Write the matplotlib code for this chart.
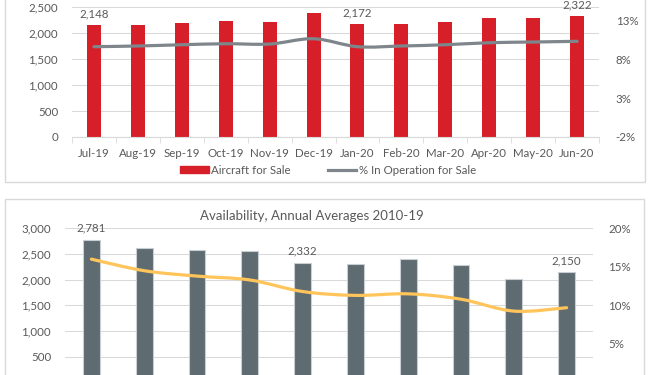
import numpy as np
import matplotlib
matplotlib.use('Agg')
import matplotlib.pyplot as plt
from matplotlib.patches import Rectangle, PathPatch
from matplotlib.path import Path
from matplotlib.lines import Line2D
from matplotlib.ticker import FuncFormatter

plt.rcParams['font.family'] = ['Lato', 'DejaVu Sans']

# monthly data, Jul-19 .. Jun-20
months = ['Jul-19', 'Aug-19', 'Sep-19', 'Oct-19', 'Nov-19', 'Dec-19',
          'Jan-20', 'Feb-20', 'Mar-20', 'Apr-20', 'May-20', 'Jun-20']
for_sale = [2148, 2160, 2198, 2225, 2212, 2390, 2172, 2179, 2217, 2282, 2294, 2322]
pct_for_sale = [9.58, 9.67, 9.83, 9.96, 9.92, 10.6, 9.58, 9.67, 9.83, 10.09, 10.18, 10.27]
monthly_labelled = ['Jul-19', 'Jan-20', 'Jun-20']

# annual averages 2010-19
years = list(range(2010, 2020))
avail = [2781, 2623, 2584, 2553, 2332, 2306, 2397, 2293, 2008, 2150]
avail_pct = [16.0, 14.5, 13.8, 13.3, 11.8, 11.3, 11.5, 10.8, 9.26, 9.7]
yearly_labelled = [2010, 2014, 2019]

red = '#D71F29'
gray_line = '#7F868B'
slate = '#5E6B71'
yellow = '#FFC45A'
grid_c = '#D9D9D9'
txt_c = '#595959'
fs = 8.3

W, H = 651, 375
def box(l, t, r, b):
    # pixel box -> figure fraction
    return [l / W, 1 - b / H, (r - l) / W, (b - t) / H]

def smooth_line(ax, xs, ys, **kw):
    # excel style smoothed line: bezier segments through the data points
    xs = np.asarray(xs, float)
    ys = np.asarray(ys, float)
    n = len(xs)
    verts = [(xs[0], ys[0])]
    codes = [Path.MOVETO]
    for i in range(n - 1):
        p0 = max(i - 1, 0)
        p3 = min(i + 2, n - 1)
        c1 = (xs[i] + (xs[i + 1] - xs[p0]) / 6, ys[i] + (ys[i + 1] - ys[p0]) / 6)
        c2 = (xs[i + 1] - (xs[p3] - xs[i]) / 6, ys[i + 1] - (ys[p3] - ys[i]) / 6)
        verts += [c1, c2, (xs[i + 1], ys[i + 1])]
        codes += [Path.CURVE4] * 3
    ax.add_patch(PathPatch(Path(verts, codes), fill=False, **kw))

fig = plt.figure(figsize=(W / 100, H / 100), dpi=100)

# chart frames
fig.add_artist(Rectangle((4.5 / W, 1 - 182.3 / H), 640.5 / W, 1, transform=fig.transFigure,
                         fill=False, ec=grid_c, lw=1))
fig.add_artist(Rectangle((5 / W, -0.1), 639 / W, 1.1 - 199.3 / H, transform=fig.transFigure,
                         fill=False, ec=grid_c, lw=1))

def style_axes(ax):
    for s in ax.spines.values():
        s.set_visible(False)
    ax.grid(axis='y', color=grid_c, lw=0.75)
    ax.set_axisbelow(True)
    ax.tick_params(axis='y', length=0, labelcolor=txt_c, labelsize=fs, pad=10)

# ---- top chart ----
ax1 = fig.add_axes(box(72, 7, 599, 137))
x = np.arange(len(months))
ax1.bar(x, for_sale, width=0.32, color=red, zorder=2)
ax1.set_xlim(-0.5, len(months) - 0.5)
ax1.set_ylim(0, 2500)
ax1.set_yticks(range(0, 2501, 500))
ax1.yaxis.set_major_formatter(FuncFormatter(lambda v, p: f'{v:,.0f}'))
style_axes(ax1)
ax1.spines['bottom'].set_visible(True)
ax1.spines['bottom'].set_color(grid_c)
ax1.set_xticks(x)
ax1.set_xticklabels(months)
ax1.set_xticks(np.arange(len(months) + 1) - 0.5, minor=True)
ax1.tick_params(axis='x', which='major', length=0, labelcolor=txt_c, labelsize=fs, pad=8)
ax1.tick_params(axis='x', which='minor', length=4, color=grid_c)
for i, m in enumerate(months):
    if m in monthly_labelled:
        ax1.annotate(f'{for_sale[i]:,}', (i, for_sale[i]), xytext=(0, 6),
                     textcoords='offset pixels', ha='center', va='bottom',
                     fontsize=fs, color=txt_c)

ax1b = ax1.twinx()
smooth_line(ax1b, x, pct_for_sale, ec=gray_line, lw=2.3, capstyle='round')
ax1b.set_ylim(-2, 14.67)
ax1b.set_yticks([-2, 3, 8, 13])
ax1b.yaxis.set_major_formatter(FuncFormatter(lambda v, p: f'{v:.0f}%'))
for s in ax1b.spines.values():
    s.set_visible(False)
ax1b.tick_params(axis='y', length=0, labelcolor=txt_c, labelsize=fs, pad=12)

handles = [Rectangle((0, 0), 1, 1, color=red),
           Line2D([], [], color=gray_line, lw=2.3)]
fig.legend(handles, ['Aircraft for Sale', '% In Operation for Sale'],
           loc='center', bbox_to_anchor=(328 / W, 1 - 170 / H), ncol=2, frameon=False,
           fontsize=fs, labelcolor=txt_c, handlelength=2.5, handleheight=0.6,
           handletextpad=0.2, columnspacing=3.2)

# ---- bottom chart ----
ax2 = fig.add_axes(box(65, 228.3, 593, 382.5))
xb = np.arange(len(years))
ax2.bar(xb, avail, width=0.32, color=slate, edgecolor='#C8CED1', lw=0.8, zorder=2)
ax2.set_xlim(-0.5, len(years) - 0.5)
ax2.set_ylim(0, 3000)
ax2.set_yticks(range(500, 3001, 500))
ax2.yaxis.set_major_formatter(FuncFormatter(lambda v, p: f'{v:,.0f}'))
style_axes(ax2)
ax2.set_xticks([])
for i, yr in enumerate(years):
    if yr in yearly_labelled:
        ax2.annotate(f'{avail[i]:,}', (i, avail[i]), xytext=(0, 6),
                     textcoords='offset pixels', ha='center', va='bottom',
                     fontsize=fs, color=txt_c)

ax2b = ax2.twinx()
smooth_line(ax2b, xb, avail_pct, ec=yellow, lw=2.3, capstyle='round')
ax2b.set_ylim(0, 20)
ax2b.set_yticks([5, 10, 15, 20])
ax2b.yaxis.set_major_formatter(FuncFormatter(lambda v, p: f'{v:.0f}%'))
for s in ax2b.spines.values():
    s.set_visible(False)
ax2b.tick_params(axis='y', length=0, labelcolor=txt_c, labelsize=fs, pad=11)

fig.text(312 / W, 1 - 216 / H, 'Availability, Annual Averages 2010-19',
         ha='center', va='center', fontsize=9.5, color=txt_c)

fig.savefig('out.png', dpi=100)
